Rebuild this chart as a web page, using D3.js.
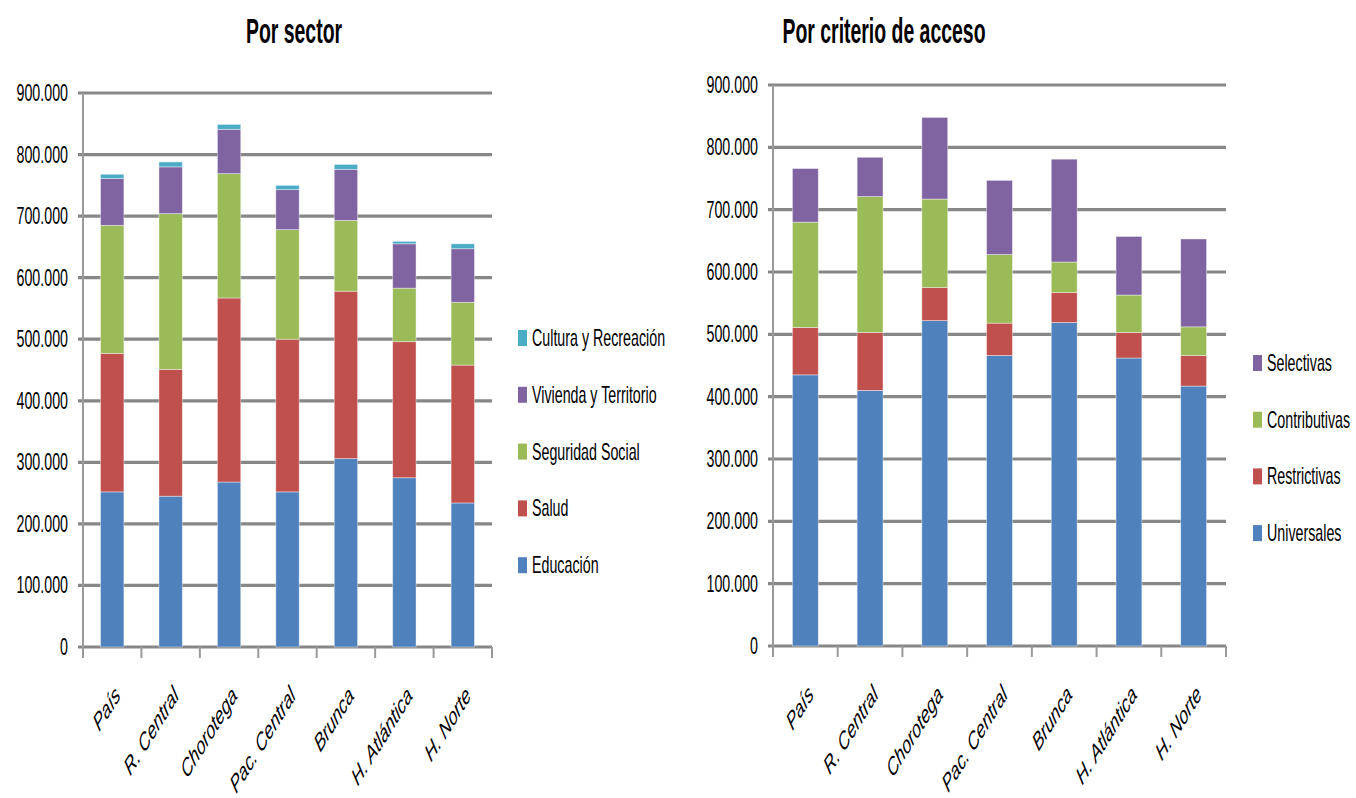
<!DOCTYPE html>
<html>
<head>
<meta charset="utf-8">
<script src="https://cdn.jsdelivr.net/npm/d3@7"></script>
<style>
  html, body { margin: 0; padding: 0; background: #ffffff; }
  svg { display: block; }
  text { font-family: "Liberation Sans", Arial, sans-serif; fill: #000; }
</style>
</head>
<body>
<svg id="chart" width="1356" height="798"></svg>
<script>
// ---------- DATA ----------
const categories = ["País", "R. Central", "Chorotega", "Pac. Central", "Brunca", "H. Atlántica", "H. Norte"];

// Left chart: "Por sector"
const sectorNames = ["Educación", "Salud", "Seguridad Social", "Vivienda y Territorio", "Cultura y Recreación"];
const educacion   = [252000, 245000, 268000, 252000, 306000, 275000, 234000];
const salud       = [225000, 206000, 299000, 248000, 272000, 221000, 224000];
const seguridad   = [208000, 253000, 202000, 178000, 115000,  87000, 102000];
const vivienda    = [ 76000,  76000,  72000,  65000,  83000,  72000,  87000];
const cultura     = [  7000,   8000,   8000,   7000,   8000,   4000,   8000];

// Right chart: "Por criterio de acceso"
const accesoNames = ["Universales", "Restrictivas", "Contributivas", "Selectivas"];
const universales   = [435000, 410000, 522000, 466000, 519000, 462000, 417000];
const restrictivas  = [ 76000,  93000,  53000,  52000,  48000,  41000,  49000];
const contributivas = [169000, 218000, 142000, 110000,  49000,  60000,  46000];
const selectivas    = [ 86000,  63000, 131000, 119000, 165000,  94000, 141000];

const yTicks = [0, 100000, 200000, 300000, 400000, 500000, 600000, 700000, 800000, 900000];
const titles = ["Por sector", "Por criterio de acceso"];

const sectorColors = ["#4F81BD", "#C0504D", "#9BBB59", "#8064A2", "#4BACC6"];
const accesoColors = ["#4F81BD", "#C0504D", "#9BBB59", "#8064A2"];

// ---------- DRAW ----------
const svg = d3.select("#chart");
const SX = 0.62;
const locale = d3.formatLocale({ decimal: ",", thousands: ".", grouping: [3], currency: ["", ""] });
const fmt = locale.format(",d");

function drawChart(cfg) {
  const g = svg.append("g");
  const x = d3.scaleBand().domain(categories).range([cfg.x0, cfg.x1]).paddingInner(0.6).paddingOuter(0.3);
  const y = d3.scaleLinear().domain([0, 900000]).range([cfg.yZero, cfg.yTop]);

  // gridlines (including left tick stubs)
  g.append("g").selectAll("line").data(yTicks).join("line")
    .attr("x1", cfg.x0 - 5).attr("x2", cfg.x1)
    .attr("y1", d => y(d)).attr("y2", d => y(d))
    .attr("stroke", "#878787").attr("stroke-width", 3.2);

  // y axis line
  g.append("line")
    .attr("x1", cfg.x0).attr("x2", cfg.x0)
    .attr("y1", cfg.yTop).attr("y2", cfg.yZero + 11)
    .attr("stroke", "#9a9a9a").attr("stroke-width", 2);

  // x ticks at band boundaries
  const step = (cfg.x1 - cfg.x0) / categories.length;
  const bounds = d3.range(categories.length + 1).map(i => cfg.x0 + i * step);
  g.append("g").selectAll("line").data(bounds).join("line")
    .attr("x1", d => d).attr("x2", d => d)
    .attr("y1", cfg.yZero).attr("y2", cfg.yZero + 11)
    .attr("stroke", "#9a9a9a").attr("stroke-width", 2);

  // stacked bars
  const rows = categories.map((c, i) => {
    const r = { cat: c };
    cfg.names.forEach((n, k) => r[n] = cfg.values[k][i]);
    return r;
  });
  const stacked = d3.stack().keys(cfg.names)(rows);
  g.append("g").selectAll("g").data(stacked).join("g")
    .attr("fill", (d, i) => cfg.colors[i])
    .selectAll("rect").data(d => d).join("rect")
    .attr("x", d => x(d.data.cat))
    .attr("width", x.bandwidth())
    .attr("y", d => y(d[1]))
    .attr("height", d => y(d[0]) - y(d[1]))
    .attr("stroke", "#ffffff").attr("stroke-opacity", 0.5).attr("stroke-width", 0.8);

  // y tick labels
  g.append("g").selectAll("text").data(yTicks).join("text")
    .attr("transform", d => `translate(${cfg.labelX},${y(d) + 8}) scale(${SX},1)`)
    .attr("text-anchor", "end")
    .style("font-size", "23px")
    .text(d => fmt(d));

  // x labels
  g.append("g").selectAll("text").data(categories).join("text")
    .attr("transform", d => `translate(${x(d) + x.bandwidth() / 2 + 9},${cfg.yZero + 50}) scale(${SX},1) rotate(-45)`)
    .attr("text-anchor", "end")
    .style("font-size", "25px").style("font-style", "italic")
    .text(d => d);

  // title
  g.append("text")
    .attr("transform", `translate(${cfg.titleX},43) scale(0.54,1)`)
    .attr("text-anchor", "middle")
    .style("font-size", "36px").style("font-weight", "bold")
    .text(cfg.title);

  // legend (reversed order)
  const leg = g.append("g");
  const items = cfg.names.map((n, i) => ({ name: n, color: cfg.colors[i] })).reverse();
  items.forEach((it, i) => {
    const cy = cfg.legY0 + i * cfg.legStep;
    leg.append("rect").attr("x", cfg.legX).attr("y", cy - 8).attr("width", 9).attr("height", 16).attr("fill", it.color);
    leg.append("text")
      .attr("transform", `translate(${cfg.legX + 14},${cy + 8}) scale(${SX},1)`)
      .style("font-size", "23px")
      .text(it.name);
  });
}

drawChart({
  x0: 83, x1: 492, yZero: 647, yTop: 93, labelX: 68, titleX: 294,
  names: sectorNames, values: [educacion, salud, seguridad, vivienda, cultura], colors: sectorColors,
  title: titles[0], legX: 518, legY0: 338, legStep: 56.8
});

drawChart({
  x0: 773, x1: 1226, yZero: 646, yTop: 85, labelX: 758, titleX: 884,
  names: accesoNames, values: [universales, restrictivas, contributivas, selectivas], colors: accesoColors,
  title: titles[1], legX: 1253, legY0: 363, legStep: 56.7
});
</script>
</body>
</html>
